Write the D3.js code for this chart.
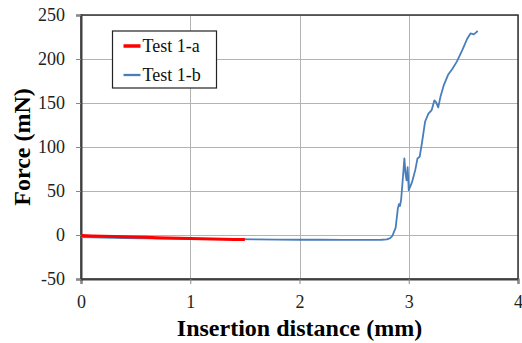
<!DOCTYPE html>
<html>
<head>
<meta charset="utf-8">
<script src="https://cdn.jsdelivr.net/npm/d3@7"></script>
<style>
  body { margin: 0; background: #fff; }
  svg text { font-family: "Liberation Serif", "Times New Roman", serif; }
</style>
</head>
<body>
<div id="chart"></div>
<script>
// Force vs insertion distance, two tests

const xTicks = [0, 1, 2, 3, 4];
const yTicks = [-50, 0, 50, 100, 150, 200, 250];

// Test 1-a: [distance mm, force mN]
const test1a = [
  [0.00, -0.5], [0.05, -0.8], [0.10, -1.0], [0.20, -1.4], [0.30, -1.8], [0.40, -2.0],
  [0.50, -2.3], [0.60, -2.6], [0.70, -3.0], [0.80, -3.3], [0.90, -3.6], [1.00, -4.0],
  [1.10, -4.2], [1.20, -4.5], [1.30, -4.8], [1.40, -5.0], [1.50, -5.2]
];

// Test 1-b
const test1b = [
  [0.00, -2.5], [0.20, -3.0], [0.40, -3.4], [0.60, -3.8], [0.80, -4.1], [1.00, -4.4],
  [1.20, -4.6], [1.40, -4.8], [1.60, -5.0], [1.80, -5.2], [2.00, -5.4], [2.20, -5.4],
  [2.40, -5.5], [2.60, -5.5], [2.75, -5.4], [2.80, -5.0], [2.83, -3.5], [2.85, -1.0],
  [2.88, 8.0], [2.90, 30.0], [2.91, 35.0], [2.92, 33.0], [2.93, 40.0], [2.94, 55.0],
  [2.96, 87.0], [2.97, 70.0], [2.98, 62.0], [2.99, 77.0], [3.00, 51.0], [3.03, 60.0],
  [3.06, 74.0], [3.08, 87.0], [3.10, 89.0], [3.12, 104.0], [3.15, 129.0], [3.18, 138.0],
  [3.21, 142.0], [3.235, 153.0], [3.25, 151.0], [3.27, 145.0], [3.29, 157.0], [3.32, 170.0],
  [3.36, 182.0], [3.40, 189.0], [3.44, 197.0], [3.49, 210.0], [3.535, 223.0], [3.565, 229.0],
  [3.595, 228.0], [3.62, 230.5], [3.63, 232.0]
];

const series = [
  { name: 'Test 1-a', data: test1a, color: '#ff0000', width: 3 },
  { name: 'Test 1-b', data: test1b, color: '#4a7ebb', width: 1.8 }
];

const serif = '"Liberation Serif", "Times New Roman", serif';
const W = 522, H = 343;
const margin = { top: 15, right: 4, bottom: 64, left: 81 };
const iw = W - margin.left - margin.right;
const ih = H - margin.top - margin.bottom;

const svg = d3.select('#chart').append('svg').attr('width', W).attr('height', H);
const g = svg.append('g').attr('transform', `translate(${margin.left},${margin.top})`);

const x = d3.scaleLinear().domain([0, 4]).range([0, iw]);
const y = d3.scaleLinear().domain([-50, 250]).range([ih, 0]);

// grid
g.append('g').selectAll('line').data(yTicks).join('line')
  .attr('x1', 0).attr('x2', iw)
  .attr('y1', d => Math.round(y(d)) + 0.5).attr('y2', d => Math.round(y(d)) + 0.5)
  .attr('stroke', '#b3b3b3').attr('stroke-width', 1);
g.append('g').selectAll('line').data(xTicks).join('line')
  .attr('y1', 0).attr('y2', ih)
  .attr('x1', d => Math.round(x(d)) + 0.5).attr('x2', d => Math.round(x(d)) + 0.5)
  .attr('stroke', '#b3b3b3').attr('stroke-width', 1);

// frame
g.append('rect').attr('x', 0).attr('y', 0).attr('width', iw).attr('height', ih)
  .attr('fill', 'none').attr('stroke', '#333').attr('stroke-width', 1.5);

// axes (plain hyphen for negatives, like the original)
const fmt = d => String(d);
const xAxis = g.append('g').attr('transform', `translate(0,${ih})`)
  .call(d3.axisBottom(x).tickValues(xTicks).tickSize(5).tickPadding(11).tickFormat(fmt));
const yAxis = g.append('g')
  .call(d3.axisLeft(y).tickValues(yTicks).tickSize(5).tickPadding(11).tickFormat(fmt));
[xAxis, yAxis].forEach(a => {
  a.attr('font-family', null).attr('font-size', null);
  a.select('.domain').attr('stroke', '#404040').attr('stroke-width', 2);
  a.selectAll('.tick line').attr('stroke', '#888');
  a.selectAll('.tick text')
    .style('font-family', serif).style('font-size', '18px').attr('fill', '#222');
});

// lines
const line = d3.line().x(d => x(d[0])).y(d => y(d[1]));
g.append('g').selectAll('path').data(series.slice().reverse()).join('path')
  .attr('d', d => line(d.data))
  .attr('fill', 'none')
  .attr('stroke', d => d.color)
  .attr('stroke-width', d => d.width)
  .attr('stroke-linejoin', 'round');

// legend
const lg = svg.append('g').attr('transform', 'translate(112.5,31)');
lg.append('rect').attr('width', 104).attr('height', 57)
  .attr('fill', '#fff').attr('stroke', '#222').attr('stroke-width', 1.2);
const items = lg.selectAll('g').data(series).join('g')
  .attr('transform', (d, i) => `translate(0,${15 + i * 29})`);
items.append('line').attr('x1', 11).attr('x2', 28)
  .attr('stroke', d => d.color).attr('stroke-width', d => d.width + 0.5);
items.append('text').attr('x', 30).attr('y', 6)
  .style('font-family', serif).style('font-size', '18px').attr('fill', '#111').text(d => d.name);

// axis titles
svg.append('text').attr('x', margin.left + iw / 2).attr('y', 336)
  .attr('text-anchor', 'middle')
  .style('font-family', serif).style('font-size', '24px').style('font-weight', 'bold')
  .text('Insertion distance (mm)');
svg.append('text')
  .attr('transform', `translate(30,${margin.top + ih / 2}) rotate(-90)`)
  .attr('text-anchor', 'middle')
  .style('font-family', serif).style('font-size', '24px').style('font-weight', 'bold')
  .text('Force (mN)');
</script>
</body>
</html>
